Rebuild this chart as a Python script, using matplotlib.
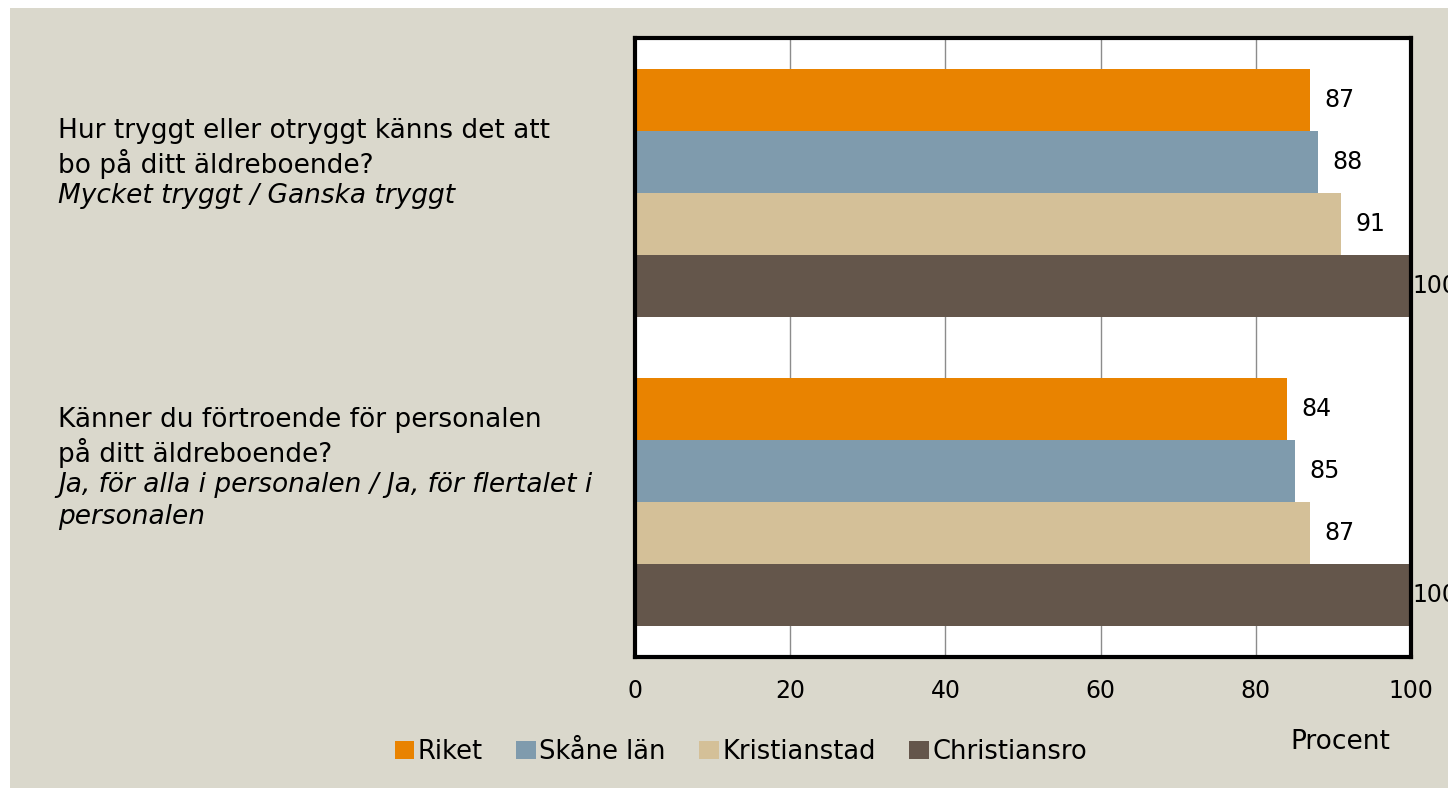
import numpy as np
import matplotlib.pyplot as plt
from matplotlib.patches import Rectangle

series = ['Riket', 'Skåne län', 'Kristianstad', 'Christiansro']
colors = ['#E98300', '#7F9BAD', '#D4C098', '#64564B']
values = [
    [87, 84],   # Riket
    [88, 85],   # Skåne län
    [91, 87],   # Kristianstad
    [100, 100], # Christiansro
]
# (question lines, answer lines in italics)
questions = [
    (['Hur tryggt eller otryggt känns det att', 'bo på ditt äldreboende?'],
     ['Mycket tryggt / Ganska tryggt']),
    (['Känner du förtroende för personalen', 'på ditt äldreboende?'],
     ['Ja, för alla i personalen / Ja, för flertalet i', 'personalen']),
]
xticks = [0, 20, 40, 60, 80, 100]

bg = '#DAD8CC'
plt.rcParams['font.family'] = ['DejaVu Sans']

W, H = 1448, 788
fig = plt.figure(figsize=(W / 100, H / 100), dpi=100)
fig.patch.set_facecolor('white')
# beige panel, white strip at top and left
fig.patches.append(Rectangle((10 / W, 0), 1 - 10 / W, 1 - 8 / H,
                             transform=fig.transFigure, facecolor=bg,
                             edgecolor='none', zorder=-10))

ax = fig.add_axes([635 / W, 1 - 657 / H, (1411 - 635) / W, (657 - 38) / H])
ax.set_facecolor('white')

bar_h = 0.2
y = np.arange(len(questions))
for i, (name, vals) in enumerate(zip(series, values)):
    pos = y - 0.3 + i * bar_h
    ax.barh(pos, vals, height=bar_h, color=colors[i], label=name, zorder=2)
    for p, v in zip(pos, vals):
        # labels sit just past the bar end, but not beyond the axis edge
        ax.text(min(v + 1.9, 100.2), p, f'{v}', va='center', ha='left',
                fontsize=17, color='black', clip_on=False)

ax.set_xlim(0, 100)
ax.set_ylim(1.5, -0.5)
ax.set_xticks(xticks)
ax.set_xticklabels([str(t) for t in xticks], fontsize=17)
ax.tick_params(axis='x', length=0, pad=16)
ax.set_yticks([])
ax.grid(axis='x', color='#8C8C8C', linewidth=1, zorder=0)
for s in ax.spines.values():
    s.set_linewidth(3)
    s.set_color('black')

# question texts on the left, one line at a time
line_gap = 32.5
for top, (title, sub) in zip([131, 420], questions):
    lines = [(t, 'normal') for t in title] + [(t, 'italic') for t in sub]
    for k, (t, st) in enumerate(lines):
        fig.text(58 / W, 1 - (top + k * line_gap) / H, t, fontsize=19,
                 style=st, va='center', ha='left')

fig.text(1340 / W, 1 - 742 / H, 'Procent', fontsize=19, ha='center', va='center')

fig.legend(loc='center', bbox_to_anchor=(741 / W, 1 - 752 / H), ncol=4,
           frameon=False, fontsize=18.5, handlelength=0.75, handleheight=0.75,
           handletextpad=0.15, columnspacing=1.3)

fig.savefig('out.png', dpi=100, facecolor=fig.get_facecolor())
